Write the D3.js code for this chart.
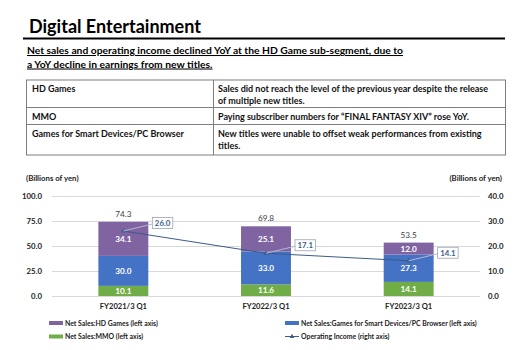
<!DOCTYPE html>
<html>
<head>
<meta charset="utf-8">
<script src="https://cdn.jsdelivr.net/npm/d3@7"></script>
<style>
  html, body { margin: 0; padding: 0; background: #fff; }
  svg { display: block; font-family: Lato, "Open Sans", sans-serif; }
</style>
</head>
<body>
<svg id="chart" width="523" height="350"></svg>
<script>
// ---- data ----
const categories = ["FY2021/3 Q1", "FY2022/3 Q1", "FY2023/3 Q1"];
const mmoSales = [10.1, 11.6, 14.1];
const smartSales = [30.0, 33.0, 27.3];
const hdSales = [34.1, 25.1, 12.0];
const totalSales = [74.3, 69.8, 53.5];
const operatingIncome = [26.0, 17.1, 14.1];
const leftTicks = [0, 25, 50, 75, 100];
const rightTicks = [0, 10, 20, 30, 40];
const seriesNames = ["Net Sales:MMO (left axis)", "Net Sales:Games for Smart Devices/PC Browser (left axis)", "Net Sales:HD Games (left axis)"];
const lineName = "Operating Income (right axis)";
const tableRows = [
  ["HD Games", ["Sales did not reach the level of the previous year despite the release", "of multiple new titles."]],
  ["MMO", ["Paying subscriber numbers for \u201CFINAL FANTASY XIV\u201D rose YoY."]],
  ["Games for Smart Devices/PC Browser", ["New titles were unable to offset weak performances from existing", "titles."]]
];
const titleText = "Digital Entertainment";
const subtitleLines = ["Net sales and operating income declined YoY at the HD Game sub-segment, due to", "a YoY decline in earnings from new titles."];

const colors = { mmo: "#70AD47", smart: "#4472C4", hd: "#8064A2", line: "#3B5C88" };

const svg = d3.select("#chart");

// ---- header ----
svg.append("text").attr("x", 29).attr("y", 32.5).attr("font-size", 18).attr("font-weight", 700)
  .attr("fill", "#000").text(titleText);
svg.append("line").attr("x1", 23).attr("x2", 505).attr("y1", 38.5).attr("y2", 38.5)
  .attr("stroke", "#000").attr("stroke-width", 2);
subtitleLines.forEach((t, i) => {
  svg.append("text").attr("x", 27).attr("y", 54 + i * 13.5).attr("font-size", 10.3).attr("font-weight", 700)
    .attr("text-decoration", "underline").attr("fill", "#000").text(t);
});

// ---- table ----
const rowYs = [80, 107.5, 124.5, 155];
const tbl = svg.append("g");
tbl.append("rect").attr("x", 26.5).attr("y", rowYs[0]).attr("width", 479).attr("height", rowYs[3] - rowYs[0])
  .attr("fill", "none").attr("stroke", "#7f7f7f").attr("stroke-width", 1);
tbl.append("line").attr("x1", 213.5).attr("x2", 213.5).attr("y1", rowYs[0]).attr("y2", rowYs[3]).attr("stroke", "#7f7f7f");
[rowYs[1], rowYs[2]].forEach(y => tbl.append("line").attr("x1", 26.5).attr("x2", 505.5).attr("y1", y).attr("y2", y).attr("stroke", "#7f7f7f"));
tableRows.forEach((r, i) => {
  const top = rowYs[i];
  tbl.append("text").attr("x", 32).attr("y", top + 12).attr("font-size", 9).attr("font-weight", 700).attr("fill", "#111").text(r[0]);
  r[1].forEach((l, j) => {
    tbl.append("text").attr("x", 218).attr("y", top + 12 + j * 12).attr("font-size", 9).attr("font-weight", 700).attr("fill", "#111").text(l);
  });
});

// ---- chart ----
const plot = { left: 52, right: 480, top: 196, bottom: 296 };
const x = d3.scaleBand().domain(categories).range([plot.left, plot.right]).paddingInner(0.65).paddingOuter(0.325);
const yL = d3.scaleLinear().domain([0, 100]).range([plot.bottom, plot.top]);
const yR = d3.scaleLinear().domain([0, 40]).range([plot.bottom, plot.top]);

svg.append("text").attr("x", 26).attr("y", 181).attr("font-size", 7.8).attr("font-weight", 700).attr("fill", "#222").text("(Billions of yen)");
svg.append("text").attr("x", 502).attr("y", 181).attr("text-anchor", "end").attr("font-size", 7.8).attr("font-weight", 700).attr("fill", "#222").text("(Billions of yen)");

// gridlines
svg.append("g").selectAll("line").data(leftTicks).join("line")
  .attr("x1", plot.left).attr("x2", plot.right)
  .attr("y1", d => Math.round(yL(d)) + 0.5).attr("y2", d => Math.round(yL(d)) + 0.5)
  .attr("stroke", "#d9d9d9").attr("stroke-width", 1);

// axes
const leftAxis = svg.append("g").attr("transform", `translate(${plot.left},0)`)
  .call(d3.axisLeft(yL).tickValues(leftTicks).tickFormat(d3.format(".1f")).tickSize(0).tickPadding(10));
const rightAxis = svg.append("g").attr("transform", `translate(${plot.right},0)`)
  .call(d3.axisRight(yR).tickValues(rightTicks).tickFormat(d3.format(".1f")).tickSize(0).tickPadding(8));
const bottomAxis = svg.append("g").attr("transform", `translate(0,${plot.bottom})`)
  .call(d3.axisBottom(x).tickSize(0).tickPadding(8));
[leftAxis, rightAxis, bottomAxis].forEach(a => {
  a.select(".domain").remove();
  a.selectAll("text").attr("font-size", 7.8).attr("font-weight", 700).attr("fill", "#222").attr("font-family", "Lato, sans-serif");
});
bottomAxis.selectAll("text").attr("font-size", 7.6);

// stacked bars
const rows = categories.map((c, i) => ({ cat: c, mmo: mmoSales[i], smart: smartSales[i], hd: hdSales[i] }));
const keys = ["mmo", "smart", "hd"];
const stack = d3.stack().keys(keys)(rows);
const gBars = svg.append("g");
stack.forEach(layer => {
  const k = layer.key;
  gBars.append("g").selectAll("rect").data(layer).join("rect")
    .attr("x", d => x(d.data.cat)).attr("width", x.bandwidth())
    .attr("y", d => yL(d[1])).attr("height", d => yL(d[0]) - yL(d[1]))
    .attr("fill", colors[k]);
  gBars.append("g").selectAll("text").data(layer).join("text")
    .attr("x", d => x(d.data.cat) + x.bandwidth() / 2)
    .attr("y", d => (yL(d[0]) + yL(d[1])) / 2 + 3)
    .attr("text-anchor", "middle").attr("font-size", 8.2).attr("font-weight", 700).attr("fill", "#fff")
    .text(d => (d[1] - d[0]).toFixed(1));
});

// total labels
svg.append("g").selectAll("text").data(categories).join("text")
  .attr("x", d => x(d) + x.bandwidth() / 2)
  .attr("y", (d, i) => yL(totalSales[i]) - 5)
  .attr("text-anchor", "middle").attr("font-size", 8.2).attr("fill", "#404040")
  .text((d, i) => totalSales[i].toFixed(1));

// operating income line
const pts = categories.map((c, i) => [x(c) + x.bandwidth() / 2, yR(operatingIncome[i])]);
svg.append("path").attr("d", d3.line()(pts)).attr("fill", "none").attr("stroke", colors.line).attr("stroke-width", 1);
const tri = d3.symbol().type(d3.symbolTriangle).size(10);
svg.append("g").selectAll("path").data(pts).join("path")
  .attr("transform", d => `translate(${d[0]},${d[1]})`).attr("d", tri).attr("fill", colors.line);

// callout labels
const gCall = svg.append("g");
pts.forEach((p, i) => {
  const bx = p[0] + 29, by = p[1] - 13.5, bw = 20.5, bh = 11;
  gCall.append("line").attr("x1", p[0]).attr("y1", p[1]).attr("x2", bx).attr("y2", by + bh / 2 + 1)
    .attr("stroke", "#b9b3d3").attr("stroke-width", 1);
  gCall.append("rect").attr("x", bx).attr("y", by).attr("width", bw).attr("height", bh)
    .attr("fill", "#fff").attr("stroke", "#9aa3b5").attr("stroke-width", 0.8);
  gCall.append("text").attr("x", bx + bw / 2).attr("y", by + 8.3).attr("text-anchor", "middle")
    .attr("font-size", 7.8).attr("font-weight", 700).attr("fill", "#3B5C88").text(operatingIncome[i].toFixed(1));
});

// legend
const leg = svg.append("g");
const legItems = [
  { name: seriesNames[2], color: colors.hd, x: 49, y: 323 },
  { name: seriesNames[1], color: colors.smart, x: 285, y: 323 },
  { name: seriesNames[0], color: colors.mmo, x: 49, y: 336.5 }
];
legItems.forEach(it => {
  leg.append("rect").attr("x", it.x).attr("y", it.y - 2).attr("width", 14).attr("height", 4).attr("fill", it.color);
  leg.append("text").attr("x", it.x + 16).attr("y", it.y + 2.6).attr("font-size", 6.9).attr("font-weight", 700).attr("fill", "#222").text(it.name);
});
leg.append("line").attr("x1", 285).attr("x2", 299).attr("y1", 336.5).attr("y2", 336.5).attr("stroke", colors.line).attr("stroke-width", 1);
leg.append("path").attr("transform", "translate(292,336.5)").attr("d", tri).attr("fill", colors.line);
leg.append("text").attr("x", 301).attr("y", 339.1).attr("font-size", 6.9).attr("font-weight", 700).attr("fill", "#222").text(lineName);
</script>
</body>
</html>
